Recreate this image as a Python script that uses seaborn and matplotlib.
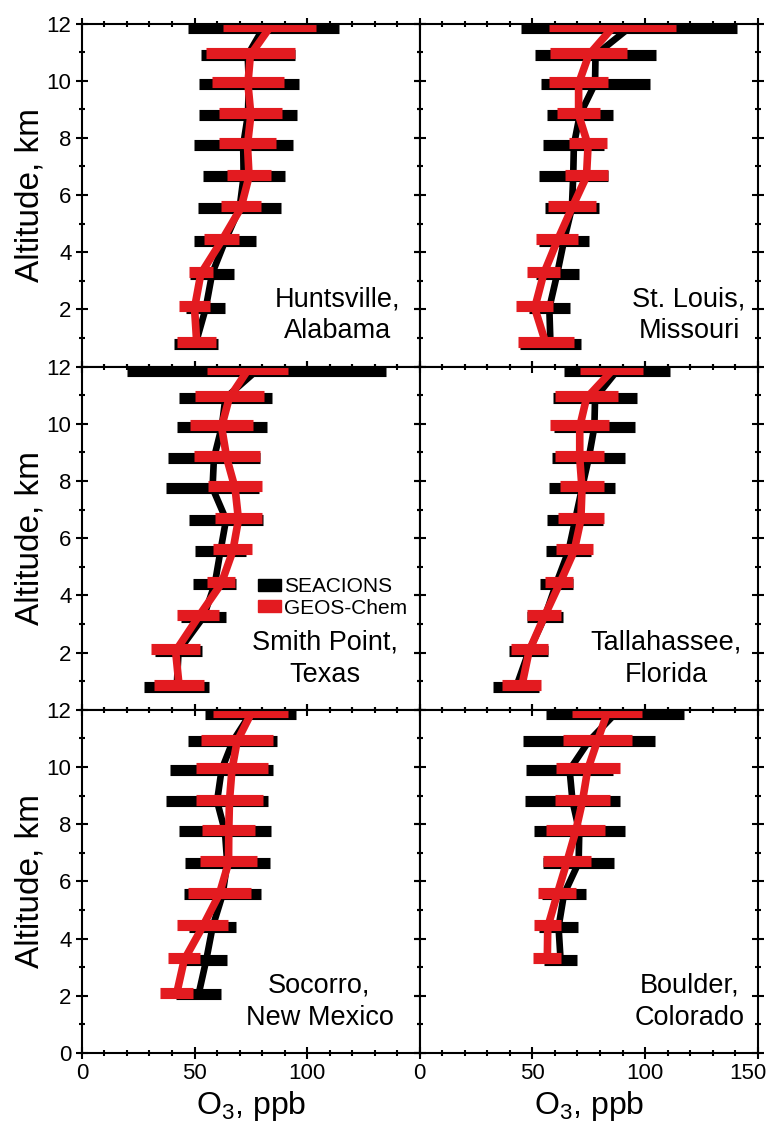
import matplotlib
matplotlib.use('Agg')
import matplotlib.pyplot as plt
import matplotlib.transforms as mtransforms
from matplotlib.patches import Patch
from matplotlib.ticker import MultipleLocator
import pandas as pd
import seaborn as sns

# altitude levels, km
alt = [11.85, 10.9, 9.9, 8.8, 7.75, 6.65, 5.55, 4.4, 3.25, 2.05, 0.8]
alt_socorro = alt[:10]
alt_boulder = alt[:9]

# O3 (ppb): SEACIONS sondes (obs) and GEOS-Chem (gc), mean and std
hsv_obs = [80.6, 73.6, 74.1, 73.7, 71.6, 71.8, 70.0, 63.6, 57.8, 55.0, 50.5]
hsv_obs_sd = [33.6, 20.8, 22.3, 21.9, 22.0, 18.2, 18.3, 13.7, 9.7, 8.7, 9.8]
hsv_gc = [83.3, 74.8, 73.7, 75.0, 73.5, 74.2, 70.6, 62.0, 52.8, 50.0, 51.0]
hsv_gc_sd = [20.8, 19.6, 16.0, 14.0, 12.8, 9.8, 8.9, 7.8, 5.2, 6.7, 8.6]

stl_obs = [93.0, 78.0, 77.8, 71.0, 68.4, 68.1, 67.5, 64.0, 61.0, 57.5, 58.0]
stl_obs_sd = [48.0, 27.0, 24.2, 14.6, 13.5, 15.4, 12.1, 11.3, 9.6, 9.0, 13.5]
stl_gc = [85.5, 75.0, 70.5, 70.5, 74.7, 74.0, 67.5, 61.0, 55.0, 51.0, 56.0]
stl_gc_sd = [28.3, 17.2, 13.0, 9.7, 8.4, 9.4, 10.8, 9.2, 7.4, 8.3, 12.4]

smp_obs = [77.4, 63.7, 62.1, 58.6, 58.0, 64.0, 61.5, 59.0, 54.0, 42.9, 42.1]
smp_obs_sd = [57.5, 20.8, 19.9, 20.6, 20.5, 16.5, 11.3, 9.6, 9.9, 10.4, 14.5]
smp_gc = [73.4, 65.4, 62.0, 64.3, 68.0, 69.5, 67.0, 61.8, 51.7, 41.6, 43.2]
smp_gc_sd = [18.0, 15.4, 13.9, 14.7, 11.9, 10.4, 8.6, 6.3, 9.3, 11.0, 11.1]

tlh_obs = [87.5, 77.8, 77.5, 75.0, 72.0, 69.0, 66.0, 60.5, 55.5, 48.4, 42.8]
tlh_obs_sd = [23.6, 18.8, 18.0, 16.1, 14.6, 12.4, 9.9, 7.3, 8.0, 8.7, 10.3]
tlh_gc = [85.2, 74.0, 71.0, 71.0, 72.0, 71.5, 68.5, 62.0, 55.2, 48.5, 45.2]
tlh_gc_sd = [14.0, 13.8, 13.1, 10.8, 9.9, 10.3, 8.2, 6.2, 7.4, 8.2, 8.7]

soc_obs = [74.7, 67.0, 62.0, 60.0, 63.5, 64.5, 62.5, 58.0, 55.2, 51.8]
soc_obs_sd = [20.2, 19.7, 23.0, 22.6, 20.4, 18.9, 17.1, 10.3, 9.4, 10.0]
soc_gc = [75.0, 68.9, 66.6, 65.5, 65.2, 65.1, 61.0, 53.5, 45.4, 42.0]
soc_gc_sd = [16.7, 16.0, 15.9, 14.9, 11.7, 12.6, 13.9, 11.5, 7.2, 7.2]

bou_obs = [86.6, 75.0, 66.5, 67.8, 70.8, 70.5, 64.0, 61.6, 62.5]
bou_obs_sd = [30.6, 29.2, 19.4, 21.2, 20.1, 15.7, 9.6, 8.8, 7.2]
bou_gc = [83.0, 78.8, 74.5, 72.2, 69.2, 65.2, 61.0, 56.8, 56.6]
bou_gc_sd = [15.6, 15.3, 14.2, 12.4, 13.0, 10.7, 8.4, 6.1, 6.3]

site_names = ['Huntsville,\nAlabama', 'St. Louis,\nMissouri',
              'Smith Point,\nTexas', 'Tallahassee,\nFlorida',
              'Socorro,\nNew Mexico', 'Boulder,\nColorado']

panels = [
    (alt, hsv_obs, hsv_obs_sd, hsv_gc, hsv_gc_sd),
    (alt, stl_obs, stl_obs_sd, stl_gc, stl_gc_sd),
    (alt, smp_obs, smp_obs_sd, smp_gc, smp_gc_sd),
    (alt, tlh_obs, tlh_obs_sd, tlh_gc, tlh_gc_sd),
    (alt_socorro, soc_obs, soc_obs_sd, soc_gc, soc_gc_sd),
    (alt_boulder, bou_obs, bou_obs_sd, bou_gc, bou_gc_sd),
]
name_x = [0.757, 0.797, 0.72, 0.729, 0.703, 0.80]

RED = '#e31b20'

sns.set_theme(style='ticks')
plt.rcParams['font.family'] = ['Liberation Sans', 'DejaVu Sans']
plt.rcParams['mathtext.default'] = 'regular'
plt.rcParams['axes.linewidth'] = 1.5
for k in ['text.color', 'axes.labelcolor', 'xtick.color', 'ytick.color', 'axes.edgecolor']:
    plt.rcParams[k] = 'black'

fig, axes = plt.subplots(3, 2, figsize=(7.72, 11.24), dpi=100)
fig.subplots_adjust(left=81.9/772, right=757.7/772, top=1-23.5/1124,
                    bottom=1-1052.9/1124, wspace=0, hspace=0)

for i, ax in enumerate(axes.flat):
    a, ob, ob_sd, gc, gc_sd = panels[i]
    df = pd.DataFrame({'alt': a, 'obs': ob, 'obs_sd': ob_sd, 'gc': gc, 'gc_sd': gc_sd})
    up = mtransforms.offset_copy(ax.transData, fig=fig, x=0, y=1.2, units='points')

    ax.hlines(df['alt'], df['obs'] - df['obs_sd'], df['obs'] + df['obs_sd'],
              color='black', lw=8)
    sns.lineplot(data=df, x='obs', y='alt', orient='y', sort=False, color='black',
                 lw=4.8, errorbar=None, ax=ax)
    ax.hlines(df['alt'], df['gc'] - df['gc_sd'], df['gc'] + df['gc_sd'],
              color=RED, lw=8, transform=up)
    sns.lineplot(data=df, x='gc', y='alt', orient='y', sort=False, color=RED,
                 lw=5.5, errorbar=None, ax=ax)

    ax.set_xlim(0, 150)
    ax.set_ylim(0, 12)
    ax.xaxis.set_minor_locator(MultipleLocator(10))
    ax.yaxis.set_minor_locator(MultipleLocator(1))
    row, col = divmod(i, 2)
    ax.set_xticks([0, 50, 100] if col == 0 else [0, 50, 100, 150])
    ax.set_yticks(range(2, 13, 2) if row < 2 else range(0, 13, 2))
    ax.tick_params(which='major', direction='inout', length=8, width=1.5,
                   top=True, right=True, labelsize=16)
    ax.tick_params(which='minor', direction='inout', length=4, width=1.5,
                   top=True, right=True)
    if row < 2:
        ax.tick_params(labelbottom=False)
    if col == 1:
        ax.tick_params(labelleft=False)
        ax.set_ylabel('')
    else:
        ax.set_ylabel('Altitude, km', fontsize=24)
        ax.yaxis.set_label_coords(-0.109, 0.5)
    if row == 2:
        ax.set_xlabel('O$_3$, ppb', fontsize=23)
        ax.xaxis.set_label_coords(0.5, -0.105)
    else:
        ax.set_xlabel('')

    ax.text(name_x[i], 0.082, site_names[i], transform=ax.transAxes, fontsize=19.5,
            ha='center', va='baseline', multialignment='center', linespacing=1.29)

# keep the last "150" inside the figure
lab = axes[2, 1].get_xticklabels()[-1]
lab.set_transform(lab.get_transform() +
                  mtransforms.ScaledTranslation(-10/100, 0, fig.dpi_scale_trans))

handles = [Patch(color='black', label='SEACIONS'), Patch(color=RED, label='GEOS-Chem')]
axes[1, 0].legend(handles=handles, loc='upper left', bbox_to_anchor=(0.52, 0.386),
                  frameon=False, fontsize=15, handlelength=1.1, handleheight=0.5,
                  handletextpad=0.15, labelspacing=0.12, borderpad=0, borderaxespad=0)

fig.savefig('out.png', dpi=100)
